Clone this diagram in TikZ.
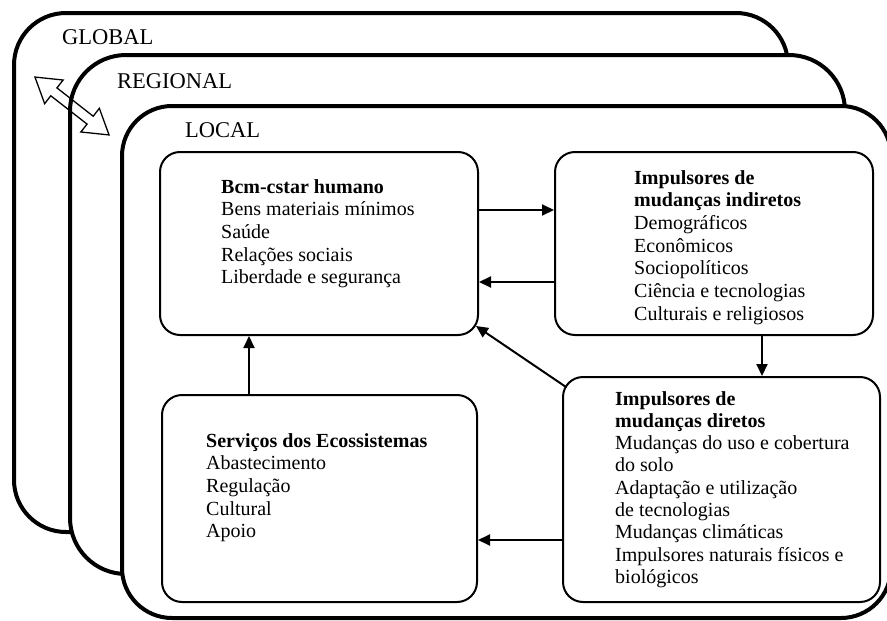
\documentclass[tikz,border=0pt]{standalone}
\usepackage{fontspec}
\setmainfont{Liberation Serif}
\usetikzlibrary{arrows.meta,fit}
\newcommand\boxtext[1]{\parbox[t]{300pt}{\raggedright #1}}
\begin{document}
\begin{tikzpicture}[x=1pt,y=-1pt,
  frame/.style={draw, line width=4pt, fill=white, rounded corners=#1},
  box/.style={draw, line width=2pt, rounded corners=20pt, fill=white, inner sep=0pt},
  flow/.style={line width=2pt, -{Triangle[length=12pt,width=11pt]}},
  hollowarrow/.style={draw, line width=1.3pt, line join=miter},
  level/.style={anchor=base west, inner sep=0pt, font=\fontsize{22.5}{25}\selectfont},
  body/.style={anchor=base west, inner sep=0pt, font=\fontsize{20}{22.7}\selectfont},
  bodytight/.style={anchor=base west, inner sep=0pt, font=\fontsize{20}{22.3}\selectfont}
]
\useasboundingbox (0,0) rectangle (887,621);
\clip (0,0) rectangle (887,621);

% nested scale frames, back to front
\draw[frame=52pt] (14,13) rectangle (788,532);
\draw[frame=56pt] (70,55) rectangle (845,574);
\draw[frame=50pt] (122,106) rectangle (891,618);

\node[level] (global) at (62,45) {GLOBAL};
\node[level] (regional) at (117,88) {REGIONAL};
\node[level] (local) at (185,137) {LOCAL};

% outlined two-headed arrow: interaction between scales
\begin{scope}[shift={(72,106)}, rotate=-38]
  \path[hollowarrow] (-47,0) -- (-23,15) -- (-23,5) -- (23,5) -- (23,15) -- (47,0)
    -- (23,-15) -- (23,-5) -- (-23,-5) -- (-23,-15) -- cycle;
\end{scope}

% boxes
\node[box, fit={(160,152) (478,335)}] (b1) {};
\node[box, fit={(555,152) (873,335)}] (b2) {};
\node[box, fit={(563,377) (880,602)}] (b3) {};
\node[box, fit={(162,395) (477,602)}] (b4) {};

\node[body] (t1) at (221,193) {\boxtext{\textbf{Bcm-cstar humano}\\Bens materiais mínimos\\Saúde\\Relações sociais\\Liberdade e segurança}};
\node[body] (t2) at (634,184) {\boxtext{\textbf{Impulsores de}\\\textbf{mudanças indiretos}\\Demográficos\\Econômicos\\Sociopolíticos\\Ciência e tecnologias\\Culturais e religiosos}};
\node[bodytight] (t3) at (615,405) {\boxtext{\textbf{Impulsores de}\\\textbf{mudanças diretos}\\Mudanças do uso e cobertura\\do solo\\Adaptação e utilização\\de tecnologias\\Mudanças climáticas\\Impulsores naturais físicos e\\biológicos}};
\node[body] (t4) at (206,447) {\boxtext{\textbf{Serviços dos Ecossistemas}\\Abastecimento\\Regulação\\Cultural\\Apoio}};

% connectors
\draw[flow] (b1.east |- 0,210) -- (b2.west |- 0,210);
\draw[flow] (b2.west |- 0,282) -- (b1.east |- 0,282);
\draw[flow] (b2.south -| 762,0) -- (b3.north -| 762,0);
\draw[flow] ([shift={(4,11)}]b3.north west) -- ([shift={(-3,-10)}]b1.south east);
\draw[flow] (b3.west |- 0,540) -- (b4.east |- 0,540);
\draw[flow] (b4.north -| 249,0) -- (b1.south -| 249,0);
\end{tikzpicture}
\end{document}
